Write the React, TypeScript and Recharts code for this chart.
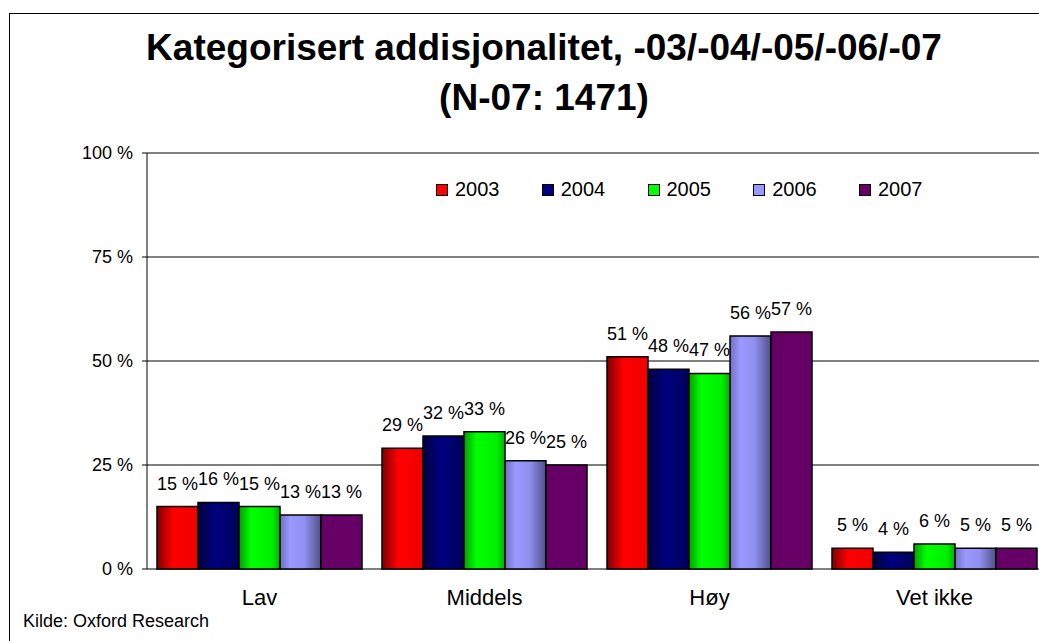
import React from 'react';
import { BarChart, Bar, XAxis, YAxis, CartesianGrid, LabelList } from 'recharts';

// Values (percent)
const categories = ['Lav', 'Middels', 'Høy', 'Vet ikke'];
const years = ['2003', '2004', '2005', '2006', '2007'];
const y2003 = [15, 29, 51, 5];
const y2004 = [16, 32, 48, 4];
const y2005 = [15, 33, 47, 6];
const y2006 = [13, 26, 56, 5];
const y2007 = [13, 25, 57, 5];
const yTicks = [0, 25, 50, 75, 100];
const edgeTicks = [0, 1, 2, 3, 4];

const seriesValues = [y2003, y2004, y2005, y2006, y2007];

const data = categories.map((name, i) => {
  const row: Record<string, string | number> = { name, pos: i + 0.5 };
  years.forEach((y, s) => {
    row[y] = seriesValues[s][i];
  });
  return row;
});

const colors: Record<string, string> = {
  '2003': '#FF0000',
  '2004': '#000080',
  '2005': '#00FF00',
  '2006': '#9999FF',
  '2007': '#660066',
};

const font = 'Arial, "Liberation Sans", sans-serif';

function LegendBox() {
  return (
    <div
      style={{
        position: 'absolute',
        left: 436,
        top: 178,
        display: 'flex',
        fontFamily: font,
        fontSize: 20,
        lineHeight: '23px',
        color: '#000',
      }}
    >
      {years.map((y) => (
        <div key={y} style={{ display: 'flex', alignItems: 'center', width: 105.75 }}>
          <span
            style={{
              display: 'inline-block',
              width: 10,
              height: 10,
              background: colors[y],
              border: '1px solid #000',
              marginRight: 7,
            }}
          />
          <span>{y}</span>
        </div>
      ))}
    </div>
  );
}

export default function App() {
  return (
    <div style={{ position: 'absolute', left: 0, top: 0, width: 1039, height: 641, overflow: 'hidden', background: '#fff' }}>
      {/* outer frame */}
      <div style={{ position: 'absolute', left: 9, top: 13, width: 1100, height: 700, border: '1px solid #000' }} />
      <div
        style={{
          position: 'absolute',
          left: 9,
          top: 23,
          width: 1070,
          textAlign: 'center',
          fontFamily: font,
          fontWeight: 'bold',
          fontSize: 37,
          lineHeight: '50px',
        }}
      >
        <div>Kategorisert addisjonalitet, -03/-04/-05/-06/-07</div>
        <div>(N-07: 1471)</div>
      </div>
      <BarChart
        width={1060}
        height={641}
        data={data}
        margin={{ top: 153, right: 13, left: 0, bottom: 42 }}
        barGap={0}
        barCategoryGap={10}
        style={{ position: 'absolute', left: 0, top: 0 }}
      >
        <defs>
          <linearGradient id="g2003" x1="0" y1="0" x2="1" y2="0">
            <stop offset="0%" stopColor="#800000" />
            <stop offset="40%" stopColor="#FF0000" />
            <stop offset="100%" stopColor="#F00000" />
          </linearGradient>
          <linearGradient id="g2004" x1="0" y1="0" x2="1" y2="0">
            <stop offset="0%" stopColor="#000040" />
            <stop offset="45%" stopColor="#000080" />
            <stop offset="100%" stopColor="#000058" />
          </linearGradient>
          <linearGradient id="g2005" x1="0" y1="0" x2="1" y2="0">
            <stop offset="0%" stopColor="#00A000" />
            <stop offset="30%" stopColor="#00FF00" />
            <stop offset="80%" stopColor="#00F000" />
            <stop offset="100%" stopColor="#00B000" />
          </linearGradient>
          <linearGradient id="g2006" x1="0" y1="0" x2="1" y2="0">
            <stop offset="0%" stopColor="#7070C0" />
            <stop offset="25%" stopColor="#9999FF" />
            <stop offset="60%" stopColor="#9090F0" />
            <stop offset="100%" stopColor="#505088" />
          </linearGradient>
        </defs>
        <CartesianGrid vertical={false} stroke="#000" strokeWidth={1} />
        <XAxis
          xAxisId="edge"
          type="number"
          dataKey="pos"
          domain={[0, 4]}
          ticks={edgeTicks}
          tick={false}
          tickSize={5}
          height={0}
          stroke="#000"
          allowDataOverflow
        />
        <XAxis
          xAxisId="cat"
          dataKey="name"
          axisLine={false}
          tickLine={false}
          tickSize={0}
          tickMargin={20}
          height={30}
          interval={0}
          tick={{ fill: '#000', fontSize: 22, fontFamily: font }}
        />
        <YAxis
          width={147}
          domain={[0, 100]}
          ticks={yTicks}
          tickFormatter={(v: number) => `${v} %`}
          tickSize={5}
          tickMargin={9}
          stroke="#000"
          tick={{ fill: '#000', fontSize: 18, fontFamily: font }}
          interval={0}
        />
        {years.map((y) => (
          <Bar
            key={y}
            xAxisId="cat"
            dataKey={y}
            name={y}
            fill={y === '2007' ? colors[y] : `url(#g${y})`}
            stroke="#000"
            strokeWidth={1.5}
            isAnimationActive={false}
          >
            <LabelList
              dataKey={y}
              position="top"
              offset={17}
              formatter={(v: number) => `${v} %`}
              style={{ fill: '#000', fontSize: 18, fontFamily: font }}
            />
          </Bar>
        ))}
      </BarChart>
      <LegendBox />
      <div style={{ position: 'absolute', left: 23, top: 611, fontFamily: font, fontSize: 18 }}>Kilde: Oxford Research</div>
    </div>
  );
}
